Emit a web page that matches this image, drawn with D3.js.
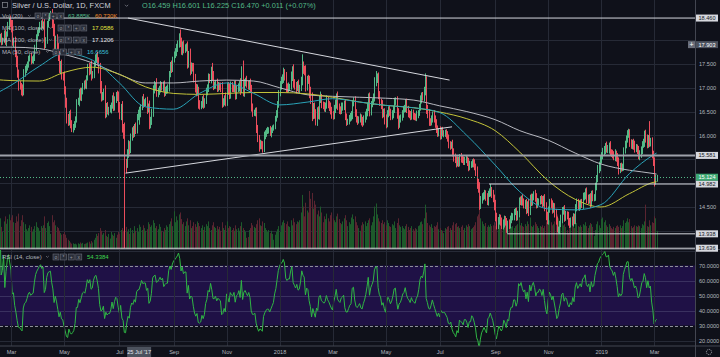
<!DOCTYPE html>
<html><head><meta charset="utf-8">
<script src="https://cdn.jsdelivr.net/npm/d3@7/dist/d3.min.js"></script>
<style>
html,body{margin:0;padding:0;background:#0f111a;overflow:hidden}
svg{display:block}
text{font-family:"Liberation Sans",Arial,sans-serif}
</style></head><body>
<svg id="chart" width="720" height="357"></svg>
<script>
// ---------------- DATA ----------------
const startDate = "2017-02-13"; // first daily bar (weekdays follow)
const closes = [
17.92,17.98,18.01,18.06,17.98, 18.00,18.10,17.97,18.12,18.30,
18.42,18.35,18.28,17.95,17.97, 17.72,17.55,17.30,17.05,17.03,
16.96,16.90,17.30,17.40,17.42, 17.50,17.60,17.64,17.58,17.60,
17.62,17.85,18.05,18.15,18.22, 18.30,18.35,18.30,18.34,17.93,
18.00,18.32,18.47,18.50,18.52, 18.33,18.20,17.88,18.03,17.88,
17.66,17.40,17.50,17.25,17.22, 16.95,16.70,16.35,16.28,16.45,
16.25,16.15,16.18,16.22,16.35, 16.70,16.70,16.90,16.80,16.92,
17.05,17.08,17.05,17.20,17.42, 17.35,17.45,17.25,17.28,17.50,
17.62,17.65,17.55,17.40,17.00, 16.80,16.82,16.90,16.48,16.62,
16.52,16.55,16.55,16.62,16.78, 16.60,16.75,16.85,16.82,16.60,
16.42,16.58,16.15,16.05,15.43, 15.40,15.62,15.78,15.70,15.98,
16.10,16.05,16.18,16.10,16.40, 16.459,16.470,16.60,16.75,16.68,
16.70,16.70,16.55,16.60,16.25, 16.30,16.48,16.95,17.02,17.05,
16.90,16.92,16.98,17.05,17.00, 17.05,16.90,16.95,16.98,16.98,
17.30,17.45,17.40,17.58,17.70, 17.75,17.82,17.90,18.02,17.95,
17.78,17.90,17.80,17.85,17.85, 17.50,17.68,17.38,17.45,17.42,
17.20,17.00,16.90,16.95,16.65, 16.62,16.64,16.75,16.65,16.72,
16.92,17.00,17.20,17.17,17.38, 17.25,17.05,17.05,17.10,17.00,
17.05,17.02,17.00,16.68,16.70, 16.78,16.70,17.03,16.95,16.85,
17.05,17.00,16.98,17.05,16.85, 16.98,17.00,17.08,16.95,17.35,
16.90,17.10,17.15,17.08,17.02, 17.10,16.98,16.60,16.48,16.48,
16.50,16.15,15.95,15.78,15.82, 15.80,15.72,15.98,16.05,16.10,
16.12,16.12,16.05,16.10,16.15, 16.20,16.35,16.45,16.65,16.90,
17.05,17.15,17.18,17.30,17.25, 17.02,16.98,17.02,17.02,17.22,
17.35,17.10,17.05,17.00,17.08, 16.98,17.00,17.15,17.45,17.38,
17.35,17.02,17.18,17.15,16.90, 16.75,16.42,16.60,16.45,16.30,
16.50,16.42,16.75,16.80,16.65, 16.62,16.58,16.62,16.75,16.65,
16.60,16.52,16.45,16.40,16.55, 16.65,16.80,16.60,16.55,16.52,
16.60,16.62,16.65,16.40,16.30, 16.30,16.35,16.40,16.42,16.68,
16.70,16.48,16.35,16.32,16.35, 16.38,16.30,16.28,16.35,16.40,
16.48,16.60,16.78,16.50,16.65, 16.72,16.80,17.10,17.20,17.20,
16.85,16.70,16.65,16.45,16.50, 16.35,16.25,16.45,16.55,16.50,
16.40,16.45,16.55,16.70,16.72, 16.45,16.25,16.35,16.38,16.45,
16.55,16.58,16.68,16.55,16.48, 16.45,16.40,16.48,16.42,16.40,
16.38,16.45,16.48,16.58,16.75, 16.82,16.80,16.92,17.12,16.55,
16.45,16.30,16.28,16.35,16.45, 16.35,16.25,16.15,16.05,16.10,
16.00,16.10,16.05,16.05,16.05, 16.00,15.95,15.82,15.80,15.82,
15.65,15.55,15.50,15.42,15.48, 15.42,15.55,15.52,15.50,15.45,
15.50,15.50,15.45,15.35,15.40, 15.40,15.45,15.42,15.35,15.25,
15.00,14.90,14.55,14.65,14.72, 14.75,14.78,14.70,14.62,14.78,
14.80,14.85,14.78,14.70,14.55, 14.30,14.12,14.20,14.28,14.20,
14.12,14.15,14.25,14.18,14.05, 14.15,14.12,14.25,14.30,14.30,
14.40,14.40,14.30,14.35,14.65, 14.62,14.68,14.60,14.55,14.58,
14.45,14.55,14.40,14.70,14.60, 14.72,14.78,14.70,14.55,14.62,
14.62,14.68,14.65,14.58,14.68, 14.50,14.32,14.22,14.45,14.60,
14.55,14.45,14.52,14.38,14.22, 13.98,14.02,14.15,14.25,14.42,
14.45,14.28,14.35,14.32,14.20, 14.15,14.22,14.18,14.30,14.22,
14.50,14.60,14.50,14.55,14.60, 14.55,14.72,14.75,14.82,14.68,
14.65,14.70,14.58,14.78,14.70, 14.72,14.95,15.10,15.30,15.35,
15.50,15.58,15.65,15.70,15.78, 15.72,15.72,15.78,15.65,15.62,
15.60,15.55,15.62,15.55,15.45, 15.30,15.35,15.32,15.35,15.70,
15.82,15.92,16.05,16.05,15.85, 15.80,15.85,15.80,15.72,15.75,
15.70,15.58,15.60,15.70,15.82, 15.85,16.00,15.95,15.82,15.95,
15.85,15.88,15.62,15.45,15.05, 15.10,15.124
];
// upper / lower shadow lengths in cents (above max(open,close), below min(open,close))
const wickHi = [
6,8,5,7,9, 5,10,12,6,8, 4,9,7,14,8, 10,6,12,8,9, 7,11,9,6,8, 5,7,6,9,6,
8,5,7,6,5, 8,6,9,5,20, 6,8,5,7,9, 13,10,14,6,9, 8,11,6,9,7, 12,8,9,10,6,
9,7,6,8,5, 6,9,7,10,8, 5,7,9,6,8, 10,6,12,7,5, 8,7,10,9,12, 14,9,8,15,6,
8,5,9,7,6, 12,7,6,9,10, 10,8,14,9,22, 8,9,12,10,6, 7,10,6,9,5, 8,13.1,5,7,12,
6,9,11,7,13, 9,8,10,12,6, 15,8,6,9,7, 8,10,7,6,9, 5,9,12,7,6, 8,10,9,12,20,
10,7,9,6,8, 12,9,14,8,7, 10,9,8,12,7, 9,8,7,10,6, 8,7,10,9,6, 14,10,8,6,9,
7,6,9,12,8, 6,12,8,9,14, 8,7,6,9,10, 7,9,6,12,10, 22,8,6,10,7, 6,9,8,7,6,
8,9,7,6,9, 7,8,10,6,5, 6,5,8,7,6, 3,6,8,7,5, 9,8,10,12,9, 8,7,9,6,12,
10,14,8,7,6, 9,6,8,25,10, 8,12,7,9,10, 12,15,8,9,10, 9,11,8,12,7, 6,8,7,9,6,
7,9,8,6,9, 10,8,12,7,6, 9,7,8,10,6, 5,8,7,9,6, 10,12,7,6,5, 8,6,9,7,10,
8,9,10,12,7, 6,8,12,15,10, 12,8,7,9,6, 7,9,8,6,7, 6,8,7,9,8, 10,12,7,6,8,
7,6,8,9,7, 5,6,7,6,5, 6,7,5,8,9, 8,9,10,18,12, 9,10,6,7,5, 8,7,9,6,5,
9,7,8,6,7, 8,9,7,6,5, 9,8,7,6,8, 7,6,8,5,6, 5,7,6,8,7, 6,5,7,8,6,
10,9,12,8,7, 6,8,7,9,6, 9,13,7,8,6, 10,8,9,7,6, 8,9,7,6,9, 6,9,7,8,7,
6,8,9,7,5, 7,6,9,8,7, 9,7,12,6,8, 6,5,8,9,7, 6,5,7,8,6, 9,10,8,6,7,
8,9,7,6,8, 8,7,6,9,8, 6,9,7,6,8, 7,6,8,7,6, 6,8,7,9,6, 7,8,6,7,9,
8,7,9,6,7, 5,6,7,8,10, 8,7,9,8,6, 9,8,7,10,6, 8,7,9,6,8, 9,7,8,6,5,
7,8,6,9,8, 7,6,8,9,7, 6,8,9,7,6, 8,10,12,7,6, 35,7,8,6,9, 8,5
];
const wickLo = [
7,5,8,6,9, 8,6,7,10,5, 9,8,12,7,10, 8,12,9,11,7, 12,8,6,7,9, 6,8,5,9,7,
10,6,8,5,7, 7,9,6,8,12, 10,8,6,7,5, 8,12,10,7,9, 10,9,12,8,7, 9,12,10,8,7,
10,8,9,7,6, 8,6,9,7,8, 6,9,7,8,5, 9,7,10,6,8, 6,9,8,10,12, 9,7,8,12,10,
8,10,7,9,6, 9,8,7,10,12, 8,10,9,12,179, 19,8,9,10,7, 9,10,8,7,6, 8,23.4,9,7,10,
8,9,10,7,12, 10,8,9,7,8, 9,10,7,8,6, 8,9,7,8,10, 6,8,9,7,5, 8,9,7,6,10,
9,10,8,7,9, 10,8,12,9,8, 9,10,8,7,9, 8,7,6,9,7, 6,8,9,7,8, 9,10,8,7,9,
8,7,9,10,8, 7,9,8,10,9, 8,9,7,8,10, 9,7,8,10,6, 8,9,7,8,6, 7,8,10,9,7,
8,10,9,12,7, 9,8,7,6,8, 7,8,6,9,5, 5,7,6,8,7, 8,9,7,8,10, 12,9,8,7,6,
8,10,9,12,7, 8,9,7,10,9, 9,10,8,7,12, 9,12,8,10,9, 10,8,9,7,8, 7,8,9,6,8,
9,8,10,7,6, 8,9,7,10,8, 7,8,9,8,10, 8,7,6,9,8, 7,9,8,10,7, 8,9,10,7,8,
7,8,9,10,8, 6,8,9,7,10, 9,8,10,9,7, 12,10,8,7,9, 8,7,9,8,6, 10,12,9,8,7,
8,7,9,8,10, 9,8,7,9,8, 7,8,9,7,6, 8,7,9,8,10, 9,10,8,7,8, 8,9,10,8,7,
9,8,7,9,8, 7,8,9,10,8, 9,10,8,9,7, 8,7,9,8,7, 7,8,9,10,8, 8,7,9,8,10,
12,10,11,9,8, 8,9,7,8,9, 7,8,9,10,12, 10,9,8,7,9, 8,9,8,7,9, 11,8,7,9,8,
8,7,9,8,7, 8,9,7,8,9, 10,8,9,7,8, 7,8,9,8,7, 8,7,9,8,7, 9,10,8,9,7,
8,9,7,10,9, 1,3,8,7,9, 8,9,7,8,9, 9,8,7,9,8, 8,9,7,8,9, 7,9,8,9,10,
9,8,10,7,8, 8,9,10,8,9, 10,9,8,7,9, 8,9,10,8,7, 8,7,9,10,9, 12,9,8,7,9,
8,9,7,10,9, 8,9,10,8,7, 9,8,10,7,9, 8,9,10,9,8, 9,8,10,9,12, 8,7
];
// volume in thousands
const volumes = [
62,70,55,80,58, 45,72,85,66,78, 90,75,82,88,70, 68,85,72,92,60, 75,88,70,65,52, 48,55,62,58,45,
52,60,70,58,55, 48,60,55,62,85, 55,68,72,60,40, 88,70,75,62,58, 55,48,42,38,40, 45,38,30,25,22,
18,15,16,14,15, 13,16,14,18,15, 17,14,15,16,18, 20,15,22,18,25, 30,40,35,42,55, 48,38,42,50,35,
32,40,28,45,38, 35,42,30,38,45, 40,50,55,48,60, 58,45,52,40,55, 50,42,60,48,55, 45,63.885,58,50,62,
55,48,52,70,65, 58,62,75,68,55, 60,52,65,58,48, 45,55,50,62,58, 65,72,80,60,98, 70,85,75,90,95,
78,65,70,60,72, 80,62,75,55,60, 70,65,58,72,68, 60,55,62,50,58, 65,60,72,55,50, 62,70,58,55,60,
52,58,48,70,55, 50,62,72,55,60, 58,50,55,48,62, 52,55,48,60,70, 55,50,45,30,32, 50,55,68,62,58,
55,65,75,80,62, 60,72,68,55,50, 45,50,42,48,40, 25,38,45,52,60, 45,62,70,75,68, 65,72,60,58,75,
62,80,70,65,72, 70,75,95,140,110, 85,120,100,95,150, 130,145,105,125,115, 90,100,85,110,95, 70,85,78,92,80,
72,88,95,80,75, 70,85,92,78,68, 65,72,80,88,75, 60,70,65,82,90, 78,85,70,62,55, 48,62,70,65,72,
60,68,75,80,62, 70,85,110,118,90, 80,72,68,75,65, 70,62,75,68,60, 58,65,62,72,55, 68,80,62,58,60,
55,52,60,65,58, 50,55,60,52,48, 55,52,60,62,70, 72,65,80,115,95, 68,62,58,65,55, 60,58,62,70,52,
55,50,48,42,55, 52,58,60,55,50, 62,70,65,68,58, 60,55,58,62,50, 55,62,58,65,60, 52,55,58,62,70,
85,90,110,80,72, 65,60,68,58,62, 58,65,60,62,70, 60,78,72,65,68, 62,58,70,65,72, 75,68,62,58,60,
55,60,62,65,80, 62,68,60,58,65, 60,72,65,82,60, 58,62,70,65,60, 55,60,58,62,55, 60,72,80,68,75,
70,62,65,72,78, 90,80,72,68,75, 62,65,58,50,42, 55,58,62,60,55, 72,68,60,58,62, 58,65,62,70,60,
55,62,68,65,58, 35,50,65,72,62, 55,78,82,70,75, 62,58,65,60,55, 52,58,55,60,62, 58,62,55,60,75,
68,72,80,70,78, 60,55,58,62,60, 58,62,60,55,65, 62,72,115,60,58, 75,62,70,68,85, 80,48
];
const maDates = ["2017-02-13","2017-03-01","2017-04-03","2017-05-01","2017-06-01","2017-07-03","2017-08-01","2017-09-01","2017-10-02","2017-11-01","2017-12-01","2018-01-01","2018-02-01","2018-03-01","2018-04-02","2018-05-01","2018-06-01","2018-07-02","2018-08-01","2018-09-03","2018-10-01","2018-11-01","2018-12-03","2019-01-01","2019-02-01","2019-03-01","2019-03-05"];
const ma50  = [16.88,17.05,17.45,17.72,17.58,17.10,16.60,16.55,16.88,17.10,16.88,16.64,16.70,16.77,16.70,16.63,16.58,16.48,16.00,15.38,14.82,14.46,14.44,14.55,15.20,15.60,15.63];
const ma100 = [17.17,17.15,17.14,17.32,17.43,17.28,17.02,16.88,16.86,16.88,16.90,16.90,16.87,16.80,16.70,16.63,16.58,16.49,16.35,16.10,15.65,15.05,14.66,14.50,14.78,15.02,15.03];
const ma200 = [17.85,17.85,17.82,17.70,17.52,17.28,17.10,17.10,17.14,17.16,17.14,17.00,16.85,16.82,16.80,16.78,16.74,16.62,16.50,16.33,16.10,15.90,15.63,15.40,15.27,15.20,15.19];
// drawings
const levelPrices = [18.460, 15.581, 14.982, 13.938, 13.636];
const levelStarts = [null, null, "2018-08-27", "2018-09-17", null];
const trendFrom = [["2017-07-12",18.46],["2017-07-10",15.21]];
const trendTo   = [["2018-07-12",17.16],["2018-07-16",16.18]];
// axes
const priceTicks = [14.0,14.5,15.0,15.5,16.0,16.5,17.0,17.5,18.0];
const rsiTicks = [20,30,40,50,60,70,80];
const timeTickDates = ["2017-03-01","2017-05-01","2017-07-03","2017-09-01","2017-11-01","2018-01-01","2018-03-01","2018-05-01","2018-07-02","2018-09-03","2018-11-01","2019-01-01","2019-03-01"];
const timeTickLabels = ["Mar","May","Jul","Sep","Nov","2018","Mar","May","Jul","Sep","Nov","2019","Mar"];
// crosshair / legend readout
const crossDate = "2017-07-25", crossDateLabel = "25 Jul '17", crossPrice = 17.903;
const legendVol = [63.885, 60.730];
const legendMA = [17.0586, 17.1206, 16.6656];
const legendRSI = 54.3384;

// ---------------- CHART ----------------
const BG="#0f111a", GRID="#262a36", TXT="#b2b5be", UP="#53b987", DN="#eb4d5c";
const svg=d3.select("#chart");
svg.append("rect").attr("width",720).attr("height",357).attr("fill",BG);
const n=closes.length;
const dates=[];
for(let d=new Date(startDate+"T00:00:00Z");dates.length<n;d.setUTCDate(d.getUTCDate()+1)){const w=d.getUTCDay();if(w>0&&w<6)dates.push(new Date(d));}
const idxOf=s=>{const t=new Date(s+"T00:00:00Z");const i=dates.findIndex(d=>d>=t);return i<0?n-1:i;};

const PR=695, MB=249.5, RB=346;
const x=d3.scaleLinear().domain([0,n-1]).range([-3.8,-3.8+1.232*(n-1)]);
const y=d3.scaleLinear().domain([18,14.5]).range([40,207]);
const yv=d3.scaleLinear().domain([0,100]).range([MB,MB-39]);
const yr=d3.scaleLinear().domain([70,30]).range([265.5,325.5]);

const defs=svg.append("defs");
defs.append("clipPath").attr("id","cm").append("rect").attr("x",0).attr("y",0).attr("width",PR).attr("height",MB);
defs.append("clipPath").attr("id","cr").append("rect").attr("x",0).attr("y",MB).attr("width",PR).attr("height",RB-MB);

const bars=closes.map((c,i)=>{const o=i?closes[i-1]:c;return {i,o,c,h:Math.max(o,c)+wickHi[i]/100,l:Math.min(o,c)-wickLo[i]/100,v:volumes[i]};});

// RSI pane band
const gr=svg.append("g").attr("clip-path","url(#cr)");
gr.append("rect").attr("x",0).attr("width",PR).attr("y",yr(70)).attr("height",yr(30)-yr(70)).attr("fill","#1f1146");

// grids
const tIdx=timeTickDates.map(idxOf);
svg.append("g").selectAll("line").data(tIdx).join("line")
  .attr("x1",d=>Math.round(x(d))+0.5).attr("x2",d=>Math.round(x(d))+0.5).attr("y1",0).attr("y2",RB)
  .attr("stroke",GRID).attr("stroke-width",1);
const gm=svg.append("g").attr("clip-path","url(#cm)");
gm.selectAll("line.hg").data(priceTicks).join("line").attr("class","hg")
  .attr("x1",0).attr("x2",PR).attr("y1",d=>Math.round(y(d))+0.5).attr("y2",d=>Math.round(y(d))+0.5)
  .attr("stroke",GRID);
gr.selectAll("line.rg").data([20,40,50,60,80]).join("line").attr("class","rg")
  .attr("x1",0).attr("x2",PR).attr("y1",d=>Math.round(yr(d))+0.5).attr("y2",d=>Math.round(yr(d))+0.5)
  .attr("stroke",d=>(d>=40&&d<=60)?"#3a3160":GRID);
gr.selectAll("line.rd").data([70,30]).join("line").attr("class","rd")
  .attr("x1",0).attr("x2",PR).attr("y1",d=>Math.round(yr(d))+0.5).attr("y2",d=>Math.round(yr(d))+0.5)
  .attr("stroke","#8d8f99").attr("stroke-dasharray","3,2");

// volume
gm.append("g").selectAll("rect").data(bars).join("rect")
  .attr("x",d=>Math.round(x(d.i))).attr("width",1)
  .attr("y",d=>yv(d.v)).attr("height",d=>MB-yv(d.v))
  .attr("fill",d=>d.c>=d.o?"#1d5a2b":"#5a2430");

// candles
gm.append("g").selectAll("rect").data(bars).join("rect")
  .attr("x",d=>Math.round(x(d.i))).attr("width",1)
  .attr("y",d=>y(d.h)).attr("height",d=>Math.max(1,y(d.l)-y(d.h)))
  .attr("fill",d=>d.c>=d.o?UP:DN);

// MAs
const maIdx=maDates.map(idxOf);
const maLine=d3.line().x(d=>x(d[0])).y(d=>y(d[1])).curve(d3.curveMonotoneX);
[[ma200,"#b8b9c0"],[ma100,"#c4c43a"],[ma50,"#2aa3b8"]].forEach(([arr,col])=>{
  gm.append("path").attr("d",maLine(arr.map((v,i)=>[maIdx[i],v]))).attr("fill","none").attr("stroke",col).attr("stroke-width",1);
});

// trend lines
trendFrom.forEach((f,k)=>{const t=trendTo[k];
  gm.append("line").attr("x1",x(idxOf(f[0]))).attr("y1",y(f[1])).attr("x2",x(idxOf(t[0]))).attr("y2",y(t[1]))
    .attr("stroke","#d6d8de").attr("stroke-width",1);
});

// last price dotted line
const last=closes[n-1];
gm.append("line").attr("x1",0).attr("x2",PR).attr("y1",Math.round(y(last))+0.5).attr("y2",Math.round(y(last))+0.5)
  .attr("stroke",UP).attr("stroke-dasharray","1,2");

// horizontal levels
levelPrices.forEach((p,k)=>{
  const x1=levelStarts[k]?x(idxOf(levelStarts[k])):0;
  gm.append("line").attr("x1",x1).attr("x2",PR).attr("y1",y(p)).attr("y2",y(p))
    .attr("stroke",k===1?"#9ea1aa":"#d6d8de").attr("stroke-width",k===1?2:1);
});

// RSI (14) from closes
const rsi=[];{let ag=0,al=0;for(let i=1;i<n;i++){const ch=closes[i]-closes[i-1],g=Math.max(ch,0),l=Math.max(-ch,0);
 if(i<=14){ag=(ag*(i-1)+g)/i;al=(al*(i-1)+l)/i;}else{ag=(ag*13+g)/14;al=(al*13+l)/14;}
 rsi.push([i,al===0?100:100-100/(1+ag/al)]);}}
gr.append("path").attr("d",d3.line().x(d=>x(d[0])).y(d=>yr(d[1]))(rsi)).attr("fill","none").attr("stroke","#2fb644").attr("stroke-width",1);

// separators & borders
[MB,RB].forEach(v=>svg.append("line").attr("x1",0).attr("x2",720).attr("y1",v).attr("y2",v).attr("stroke","#434651"));
svg.append("line").attr("x1",PR+0.5).attr("x2",PR+0.5).attr("y1",0).attr("y2",357).attr("stroke","#434651");

// axes (tick labels hidden where a level tag covers them, as on the reference)
const tagY=levelPrices.concat([closes[n-1],crossPrice]).map(p=>y(p));
const freeTicks=priceTicks.filter(t=>tagY.every(v=>Math.abs(v-y(t))>=6));
function styleAxis(g){g.select(".domain").remove();g.selectAll("text").attr("fill",TXT).style("font-size","5.6px").style("font-family","Liberation Sans, Arial, sans-serif");}
svg.append("g").attr("transform",`translate(${PR},0)`)
  .call(d3.axisRight(y).tickValues(freeTicks).tickSize(0).tickPadding(4).tickFormat(d3.format(".3f"))).call(styleAxis);
const freeRsi=rsiTicks.filter(t=>yr(t)>MB+4);
svg.append("g").attr("transform",`translate(${PR},0)`)
  .call(d3.axisRight(yr).tickValues(freeRsi).tickSize(0).tickPadding(4).tickFormat(d3.format(".4f"))).call(styleAxis);
svg.append("g").attr("transform",`translate(0,${RB})`)
  .call(d3.axisBottom(x).tickValues(tIdx).tickSize(0).tickPadding(4).tickFormat((d,i)=>timeTickLabels[i])).call(styleAxis);

// right labels
function priceLabel(p,fill,tc,txt){
  const yy=y(p);
  svg.append("rect").attr("x",696).attr("y",yy-3.5).attr("width",22).attr("height",7).attr("fill",fill);
  svg.append("text").attr("x",707).attr("y",yy+2).attr("text-anchor","middle").attr("fill",tc).style("font-size","5.6px").text(txt||d3.format(".3f")(p));
}
levelPrices.forEach(p=>priceLabel(p,"#d6d8de","#131722"));
priceLabel(last,"#3fa873","#ffffff");
// crosshair price
svg.append("rect").attr("x",688).attr("y",y(crossPrice)-3.5).attr("width",7).attr("height",7).attr("fill","#6a6e7a");
svg.append("text").attr("x",691.5).attr("y",y(crossPrice)+2.2).attr("text-anchor","middle").attr("fill","#fff").style("font-size","7px").text("+");
priceLabel(crossPrice,"#4c525e","#ffffff");
// crosshair date
const cx=x(idxOf(crossDate));
svg.append("rect").attr("x",cx-12).attr("y",RB+1).attr("width",24).attr("height",10).attr("fill","#4c525e");
svg.append("text").attr("x",cx).attr("y",RB+8).attr("text-anchor","middle").attr("fill","#e0e3eb").style("font-size","5.6px").text(crossDateLabel);
// gear
svg.append("circle").attr("cx",709).attr("cy",352).attr("r",2.6).attr("fill","none").attr("stroke",TXT).attr("stroke-width",0.8).attr("stroke-dasharray","1.2,0.8");

// header
const hdr=svg.append("g");
hdr.append("rect").attr("x",2.5).attr("y",2.5).attr("width",5).attr("height",5).attr("fill","none").attr("stroke","#8a8d96").attr("stroke-width",0.7);
hdr.append("text").attr("x",12).attr("y",8.3).attr("fill","#d1d4dc").style("font-size","7.4px").text("Silver / U.S. Dollar, 1D, FXCM");
hdr.append("path").attr("d","M125,4.8 l1.6,1.6 l1.6,-1.6").attr("fill","none").attr("stroke","#8a8d96").attr("stroke-width",0.7);
const cb=bars[idxOf(crossDate)];
const chg=cb.c-cb.o;
const f3=d3.format(".3f");
hdr.append("text").attr("x",142).attr("y",8.3).attr("fill",UP).style("font-size","7.4px")
  .text(`O${f3(cb.o)}  H${f3(cb.h)}  L${f3(cb.l)}  C${f3(cb.c)}  ${chg>=0?"+":""}${f3(chg)} (${chg>=0?"+":""}${(chg/cb.o*100).toFixed(2)}%)`);

// legends
function icons(x0,yc){
  for(let k=0;k<4;k++){
    const xx=x0+k*7.6;
    svg.append("rect").attr("x",xx).attr("y",yc-3).attr("width",6).attr("height",6).attr("fill","#2a2e39").attr("stroke","#6a6d78").attr("stroke-width",0.6);
    const c=["o","*","+","x"][k];
    svg.append("text").attr("x",xx+3).attr("y",yc+1.8).attr("text-anchor","middle").attr("fill","#9598a1").style("font-size","5px").text(c);
  }
}
function chev(xx,yc){svg.append("path").attr("d",`M${xx},${yc-1} l1.4,1.4 l1.4,-1.4`).attr("fill","none").attr("stroke","#8a8d96").attr("stroke-width",0.6);}
function legendRow(yc,label,labelEnd,iconX,vals){
  svg.append("text").attr("x",2).attr("y",yc+2.1).attr("fill",TXT).style("font-size","6px").text(label);
  chev(labelEnd,yc);
  icons(iconX,yc);
  vals.forEach(v=>svg.append("text").attr("x",v[0]).attr("y",yc+2.1).attr("fill",v[2]).style("font-size","6px").text(v[1]));
}
const fk=v=>d3.format(".3f")(v)+"K", f4=d3.format(".4f");
legendRow(16,"Vol (20)",28,35,[[68,fk(legendVol[0]),UP],[95,fk(legendVol[1]),"#f08c2a"]]);
legendRow(28,"MA (100, close)",49,58,[[92,f4(legendMA[0]),"#e6e640"]]);
legendRow(40,"MA (200, close)",49,58,[[92,f4(legendMA[1]),"#e8e8ea"]]);
legendRow(52,"MA (50, close)",46,53,[[87,f4(legendMA[2]),"#3cc0d6"]]);
legendRow(257,"RSI (14, close)",46,53,[[87,f4(legendRSI),"#3fd34f"]]);
</script>
</body></html>
